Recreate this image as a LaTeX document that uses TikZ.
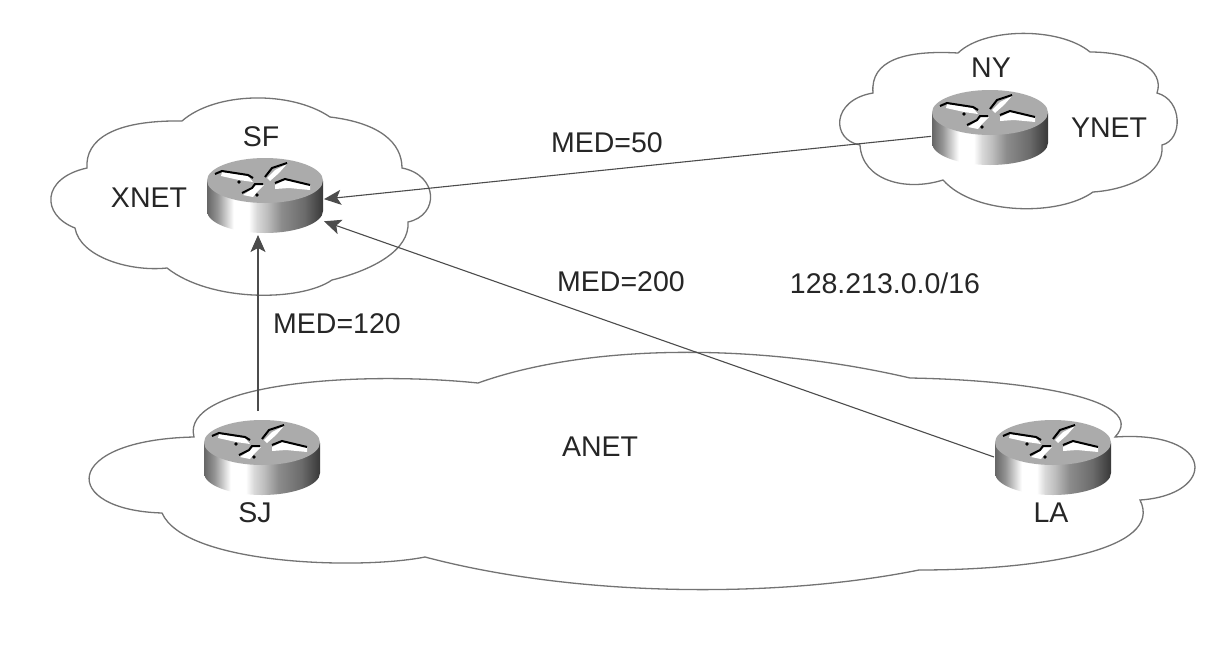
\documentclass[tikz,border=0pt]{standalone}
\usepackage{fontspec}
\setmainfont{Liberation Sans}
\usetikzlibrary{arrows.meta}
\pgfdeclarehorizontalshading{routerside}{100bp}{
  color(0bp)=(black!60); color(25bp)=(black!60); color(29.5bp)=(black!42);
  color(33.5bp)=(black!18); color(36.5bp)=(white); color(43bp)=(white);
  color(46.5bp)=(black!15); color(51bp)=(black!26); color(57bp)=(black!45);
  color(67bp)=(black!58); color(75bp)=(black!78); color(100bp)=(black!78)}
\tikzset{every node/.style={font=\fontsize{28.5}{31}\selectfont,text=black!85}}
\tikzset{cloudline/.style={draw=black!55,line width=1.3pt,fill=white}}
\tikzset{link/.style={draw=black!70,line width=1.1pt,-{Stealth[length=17pt,width=15pt,inset=4pt]}}}
\tikzset{routerbox/.style={minimum width=118pt,minimum height=80pt,inner sep=0pt,outer sep=0pt}}
\tikzset{router/.pic={
  \shade[shading=routerside] (-58,-14) -- (-58,16) .. controls (-58,28) and (-32,38) .. (0,38)
    .. controls (32,38) and (58,28) .. (58,16) -- (58,-14) -- cycle;
  \fill[black!33] (0,-14.5) ellipse [x radius=58pt,y radius=22.5pt];
  \fill[white] (-43,-23) -- (-17,-19) -- (-12,-13) -- (-26,-15) -- (-44,-19) -- cycle;
  \fill[white] (2,-17) -- (10,-25) -- (22,-31) -- (14,-22) -- (5,-14) -- cycle;
  \fill[white] (10,-10) -- (20,-15) -- (45,-10) -- (45,-5) -- (24,-7) -- (10,-6) -- cycle;
  \fill[white] (-22,0) -- (-13,-6) -- (-9,-10) -- (-1,-10) -- (-8,-3) -- (-12,2) -- cycle;
  \draw[black,line width=2pt] (-50,-21) -- (-43,-24) -- (-17,-20) -- (-12,-17);
  \draw[black,line width=2pt] (0,-18) -- (7,-27) -- (22,-32);
  \draw[black,line width=2pt] (10,-12) -- (20,-16) -- (45,-10);
  \draw[black,line width=2pt] (-23,-2) -- (-13,-7) -- (-10,-11) -- (-2,-11);
  \fill[black] (-26,-13) circle (1.8pt) (-8,0) circle (1.8pt);
}}

\begin{document}
\begin{tikzpicture}[x=1pt,y=-1pt]
\useasboundingbox (0,0) rectangle (1205,648);

% clouds
\path[cloudline] (87,168) .. controls (85,140) and (113,120) .. (182,121)
  .. controls (215,92) and (290,90) .. (330,117)
  .. controls (380,123) and (402,143) .. (402,168)
  .. controls (438,175) and (440,215) .. (408,222)
  .. controls (410,250) and (373,270) .. (332,280)
  .. controls (300,302) and (210,302) .. (167,268)
  .. controls (130,272) and (80,257) .. (75,228)
  .. controls (41,215) and (41,178) .. (87,168) -- cycle;
\path[cloudline] (873,93) .. controls (870,60) and (905,50) .. (958,53)
  .. controls (985,27) and (1060,27) .. (1090,52)
  .. controls (1135,52) and (1165,70) .. (1157,93)
  .. controls (1183,100) and (1183,140) .. (1162,145)
  .. controls (1165,175) and (1125,190) .. (1093,192)
  .. controls (1060,216) and (975,216) .. (943,180)
  .. controls (905,192) and (862,180) .. (860,145)
  .. controls (831,140) and (831,100) .. (873,93) -- cycle;
\path[cloudline] (194,437) .. controls (180,385) and (350,370) .. (478,383)
  .. controls (590,343) and (760,343) .. (910,378)
  .. controls (1030,380) and (1150,400) .. (1115,437)
  .. controls (1217,430) and (1217,495) .. (1140,500)
  .. controls (1165,550) and (1040,570) .. (919,570)
  .. controls (780,598) and (580,598) .. (425,557)
  .. controls (360,570) and (185,565) .. (162,513)
  .. controls (60,510) and (60,440) .. (194,437) -- cycle;

% routers
\pic at (265,195) {router};
\pic at (990,127) {router};
\pic at (262,457) {router};
\pic at (1053,457) {router};
\node[routerbox] (sf) at (265,195) {};
\node[routerbox] (ny) at (990,127) {};
\node[routerbox] (sj) at (263,457) {};
\node[routerbox] (la) at (1053,457) {};

\node (sflabel) at (261,137) {SF};
\node (xnet) at (149,198) {XNET};
\node (nylabel) at (991,68) {NY};
\node (ynet) at (1109,128) {YNET};
\node (sjlabel) at (255,513) {SJ};
\node (lalabel) at (1051,513) {LA};
\node (anet) at (600,447) {ANET};
\node (med50) at (607,143) {MED=50};
\node (med200) at (621,282) {MED=200};
\node (med120) at (337,324) {MED=120};
\node (prefix) at (885,283) {128.213.0.0/16};

\draw[link] (ny.189) -- (sf.-4);
\draw[link] (la.west) -- (sf.-24);
\draw[link,shorten <=6pt] ([xshift=-5pt]sj.north) -- ([xshift=-7pt]sf.south);

\end{tikzpicture}
\end{document}
